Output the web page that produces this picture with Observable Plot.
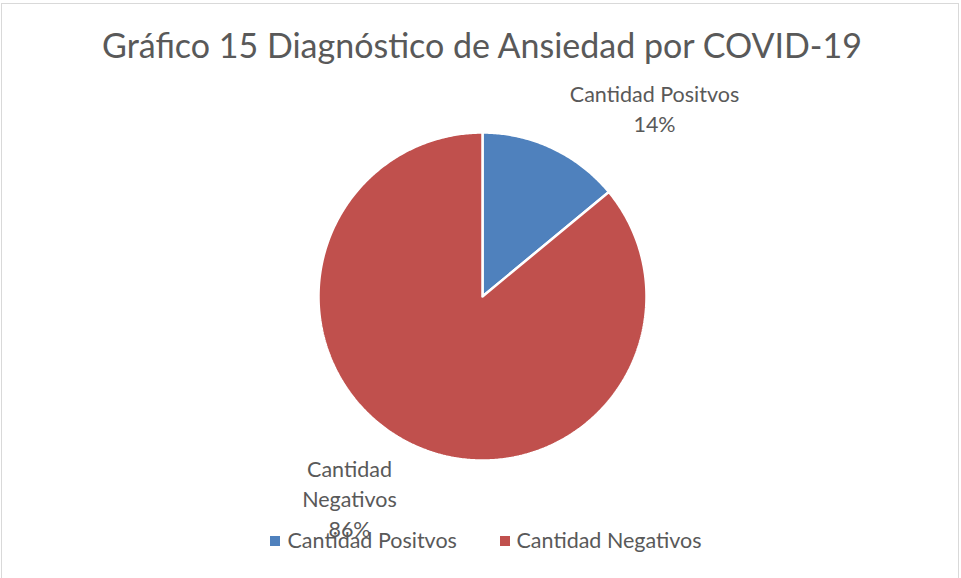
<!DOCTYPE html>
<html>
<head>
<meta charset="utf-8">
<script src="https://cdn.jsdelivr.net/npm/d3@7"></script>
<script src="https://cdn.jsdelivr.net/npm/@observablehq/plot@0.6"></script>
<style>
  html, body { margin: 0; padding: 0; background: #fff; }
  #wrap { position: relative; width: 961px; height: 578px; overflow: hidden; }
  #border { position: absolute; left: 1px; top: 3px; width: 958px; height: 600px; border: 1px solid #d9d9d9; box-sizing: border-box; pointer-events: none; }
  svg { display: block; }
</style>
</head>
<body>
<div id="wrap"><div id="chart"></div><div id="border"></div></div>
<script>
const title = "Gráfico 15 Diagnóstico de Ansiedad por COVID-19";
const categories = ["Cantidad Positvos", "Cantidad Negativos"];
const values = [14, 86];
const colors = ["#4F81BD", "#C0504D"];
const labelLines = [["Cantidad Positvos", "14%"], ["Cantidad", "Negativos", "86%"]];

// layout
const W = 961, H = 578;
const cx = 482, cy = 296, R = 164;
const font = "Lato, 'Open Sans', sans-serif";
const textColor = "#595959";
const labelAnchors = [{x: 654, y: 95}, {x: 349, y: 470}];
const lineGap = 30;

const total = d3.sum(values);
const arcs = d3.pie().sort(null).value(d => d)(values);

// slice polygons
const slicePts = [];
arcs.forEach((a, i) => {
  const n = Math.max(2, Math.ceil((a.endAngle - a.startAngle) / 0.01));
  slicePts.push({cat: categories[i], x: cx, y: cy});
  for (let k = 0; k <= n; k++) {
    const t = a.startAngle + (a.endAngle - a.startAngle) * k / n;
    slicePts.push({cat: categories[i], x: cx + R * Math.sin(t), y: cy - R * Math.cos(t)});
  }
  slicePts.push({cat: categories[i], x: cx, y: cy});
});

// data labels
const labelRows = [];
labelLines.forEach((lines, i) => {
  lines.forEach((t, j) => {
    const txt = (j === lines.length - 1) ? Math.round(values[i] / total * 100) + "%" : t;
    labelRows.push({text: txt, x: labelAnchors[i].x, y: labelAnchors[i].y + j * lineGap});
  });
});

// legend
const legendItems = [
  {cat: categories[0], sx: 275, tx: 287, y: 541},
  {cat: categories[1], sx: 505, tx: 516, y: 541}
];

const plot = Plot.plot({
  width: W, height: H,
  margin: 0,
  x: {domain: [0, W], range: [0, W], axis: null},
  y: {domain: [0, H], range: [0, H], axis: null},
  color: {domain: categories, range: colors},
  style: {fontFamily: font, background: "transparent"},
  marks: [
    Plot.line(slicePts, {x: "x", y: "y", z: "cat", fill: "cat", stroke: "white", strokeWidth: 2.5, strokeLinejoin: "miter", curve: "linear"}),
    Plot.text([title], {x: W / 2 + 1, y: 47, text: d => d, fontSize: 34, fill: textColor, textAnchor: "middle"}),
    Plot.text(labelRows, {x: "x", y: "y", text: "text", fontSize: 21.5, fill: textColor, textAnchor: "middle"}),
    Plot.rect(legendItems, {x1: d => d.sx - 5, x2: d => d.sx + 5, y1: d => d.y - 5, y2: d => d.y + 5, fill: "cat"}),
    Plot.text(legendItems, {x: "tx", y: "y", text: "cat", fontSize: 21.5, fill: textColor, textAnchor: "start"})
  ]
});
document.getElementById("chart").appendChild(plot);
</script>
</body>
</html>
